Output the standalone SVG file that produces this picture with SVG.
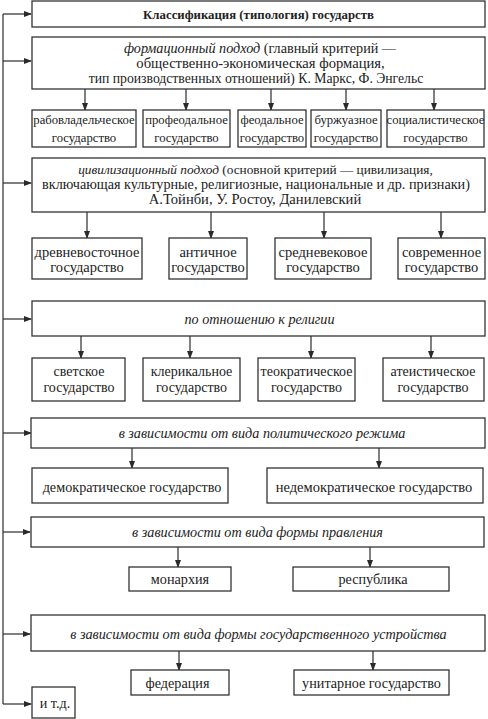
<svg xmlns="http://www.w3.org/2000/svg" width="488" height="719" viewBox="0 0 488 719" font-family="'Liberation Serif', 'DejaVu Serif', serif">
<defs>
<marker id="ah" markerWidth="8" markerHeight="6" refX="7" refY="3" orient="auto" markerUnits="userSpaceOnUse">
<path d="M0,0 L8,3 L0,6 Z" fill="#2a2a2a"/>
</marker>
<style>
rect{fill:#fff;stroke:#333;stroke-width:1.3}
text{fill:#222;text-anchor:middle}
.t{font-size:12.8px}
.s{font-size:12.7px}
.r2{font-size:14.5px}
.r3{font-size:14px}
.m{font-size:14.2px}
.i{font-style:italic}
.b{font-weight:bold}
#connectors path{stroke:#2a2a2a;stroke-width:1.2;fill:none}
</style>
</defs>
<rect x="0" y="0" width="488" height="719" style="fill:#fff;stroke:none"/>
<g id="connectors">
<path d="M3,14 V704"/>
<path d="M3,14 H31" marker-end="url(#ah)"/>
<path d="M3,61 H31" marker-end="url(#ah)"/>
<path d="M3,183 H31" marker-end="url(#ah)"/>
<path d="M3,319 H31" marker-end="url(#ah)"/>
<path d="M3,433 H31" marker-end="url(#ah)"/>
<path d="M3,532 H30" marker-end="url(#ah)"/>
<path d="M3,634 H30" marker-end="url(#ah)"/>
<path d="M3,704 H31" marker-end="url(#ah)"/>
<path d="M85,89 V110" marker-end="url(#ah)"/>
<path d="M186,89 V110" marker-end="url(#ah)"/>
<path d="M271,89 V110" marker-end="url(#ah)"/>
<path d="M346,89 V110" marker-end="url(#ah)"/>
<path d="M434,89 V110" marker-end="url(#ah)"/>
<path d="M87,212 V238" marker-end="url(#ah)"/>
<path d="M211,212 V238" marker-end="url(#ah)"/>
<path d="M324,212 V238" marker-end="url(#ah)"/>
<path d="M441,212 V238" marker-end="url(#ah)"/>
<path d="M81,336 V358" marker-end="url(#ah)"/>
<path d="M190,336 V358" marker-end="url(#ah)"/>
<path d="M311,336 V358" marker-end="url(#ah)"/>
<path d="M431,336 V358" marker-end="url(#ah)"/>
<path d="M132,448 V468" marker-end="url(#ah)"/>
<path d="M379,448 V468" marker-end="url(#ah)"/>
<path d="M178,547 V567" marker-end="url(#ah)"/>
<path d="M370,547 V567" marker-end="url(#ah)"/>
<path d="M179,651 V670" marker-end="url(#ah)"/>
<path d="M373,651 V670" marker-end="url(#ah)"/>
</g>
<g id="title"><rect x="32" y="1" width="453" height="26"/><text class="t b" x="258.5" y="18.5">Классификация (типология) государств</text></g>
<g id="formation"><rect x="32" y="37" width="453" height="52"/>
<text x="260" y="52.5" font-size="14.2"><tspan class="i">формационный подход</tspan> (главный критерий —</text>
<text x="260.5" y="67.5" font-size="14.6">общественно-экономическая формация,</text>
<text x="256" y="82.5" font-size="13.7">тип производственных отношений) К. Маркс, Ф. Энгельс</text></g>
<g id="slave"><rect x="32" y="110" width="104" height="37"/><text class="s" x="84" y="123.5">рабовладельческое</text><text class="s" x="84" y="141.5">государство</text></g>
<g id="prefeudal"><rect x="143" y="110" width="87" height="37"/><text class="s" x="186.5" y="123.5">профеодальное</text><text class="s" x="186.5" y="141.5">государство</text></g>
<g id="feudal"><rect x="238" y="110" width="68" height="37"/><text class="s" x="272" y="123.5">феодальное</text><text class="s" x="272" y="141.5">государство</text></g>
<g id="bourgeois"><rect x="311" y="110" width="70" height="37"/><text class="s" x="346" y="123.5">буржуазное</text><text class="s" x="346" y="141.5">государство</text></g>
<g id="socialist"><rect x="387" y="110" width="97" height="37"/><text class="s" x="435.5" y="123.5">социалистическое</text><text class="s" x="435.5" y="141.5">государство</text></g>
<g id="civil"><rect x="32" y="158" width="453" height="54"/>
<text x="255.5" y="173.5" font-size="13.3"><tspan class="i">цивилизационный подход</tspan> (основной критерий — цивилизация,</text>
<text x="256" y="188.5" font-size="14.2">включающая культурные, религиозные, национальные и др. признаки)</text>
<text x="255" y="203.5" font-size="14.6">А.Тойнби, У. Ростоу, Данилевский</text></g>
<g id="eastern"><rect x="32" y="238" width="110" height="41"/><text class="r2" x="87" y="257">древневосточное</text><text class="r2" x="87" y="272">государство</text></g>
<g id="antique"><rect x="169" y="238" width="78" height="41"/><text class="r2" x="208" y="257">античное</text><text class="r2" x="208" y="272">государство</text></g>
<g id="medieval"><rect x="275" y="238" width="96" height="41"/><text class="r2" x="323" y="257">средневековое</text><text class="r2" x="323" y="272">государство</text></g>
<g id="modern"><rect x="398" y="238" width="87" height="41"/><text class="r2" x="441.5" y="257">современное</text><text class="r2" x="441.5" y="272">государство</text></g>
<g id="religion"><rect x="32" y="301" width="453" height="35"/><text class="m i" x="259.5" y="324">по отношению к религии</text></g>
<g id="secular"><rect x="32" y="358" width="93" height="43"/><text class="r3" x="79" y="376">светское</text><text class="r3" x="79" y="392">государство</text></g>
<g id="clerical"><rect x="143" y="358" width="97" height="43"/><text class="r3" x="191.5" y="376">клерикальное</text><text class="r3" x="191.5" y="392">государство</text></g>
<g id="theocratic"><rect x="258" y="358" width="97" height="43"/><text class="r3" x="306.5" y="376">теократическое</text><text class="r3" x="306.5" y="392">государство</text></g>
<g id="atheist"><rect x="383" y="358" width="101" height="43"/><text class="r3" x="433" y="376">атеистическое</text><text class="r3" x="433" y="392">государство</text></g>
<g id="regime"><rect x="31" y="418" width="454" height="30"/><text class="m i" x="262" y="438">в зависимости от вида политического режима</text></g>
<g id="democratic"><rect x="32" y="468" width="196" height="35"/><text class="m" x="132" y="492">демократическое государство</text></g>
<g id="nondemocratic"><rect x="267" y="468" width="216" height="35"/><text x="374" y="492" font-size="14.5">недемократическое государство</text></g>
<g id="government"><rect x="31" y="517" width="453" height="30"/><text class="m i" x="257.5" y="537">в зависимости от вида формы правления</text></g>
<g id="monarchy"><rect x="129" y="567" width="102" height="24"/><text class="m" x="180" y="584">монархия</text></g>
<g id="republic"><rect x="293" y="567" width="156" height="24"/><text class="m" x="373" y="584">республика</text></g>
<g id="structure"><rect x="31" y="615" width="454" height="36"/><text class="m i" x="258.5" y="639">в зависимости от вида формы государственного устройства</text></g>
<g id="federation"><rect x="131" y="670" width="98" height="25"/><text class="m" x="177.5" y="688">федерация</text></g>
<g id="unitary"><rect x="294" y="670" width="155" height="25"/><text class="m" x="371.5" y="688">унитарное государство</text></g>
<g id="etc"><rect x="32" y="687" width="43" height="31"/><text class="m" x="55" y="708">и т.д.</text></g>
</svg>
